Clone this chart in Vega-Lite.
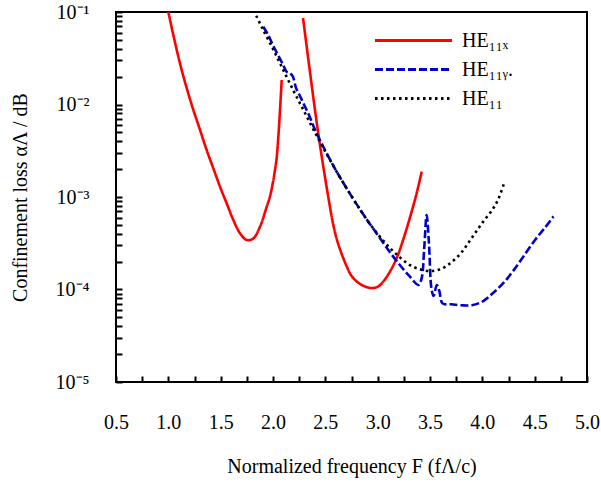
{
  "$schema": "https://vega.github.io/schema/vega-lite/v6.json",
  "width": 471,
  "height": 370,
  "autosize": {"type": "none"},
  "padding": {"left": 116, "top": 12, "right": 14, "bottom": 100},
  "background": "white",
  "config": {
    "view": {"stroke": "black", "strokeWidth": 2},
    "font": "Liberation Serif",
    "axis": {
      "domain": false,
      "grid": false,
      "ticks": true,
      "zindex": 1,
      "tickColor": "black",
      "tickWidth": 2,
      "labelFlush": false,
      "labelColor": "black",
      "labelFont": "Liberation Serif",
      "labelFontSize": 20,
      "titleFont": "Liberation Serif",
      "titleFontSize": 20,
      "titleFontWeight": "normal",
      "titleColor": "black"
    }
  },
  "data": {
    "values": [
      {"mode": "HE11x", "seg": "a", "F": 1.0, "loss": 0.1},
      {"mode": "HE11x", "seg": "a", "F": 1.05, "loss": 0.055},
      {"mode": "HE11x", "seg": "a", "F": 1.111, "loss": 0.0279},
      {"mode": "HE11x", "seg": "a", "F": 1.17, "loss": 0.0158},
      {"mode": "HE11x", "seg": "a", "F": 1.239, "loss": 0.00873},
      {"mode": "HE11x", "seg": "a", "F": 1.3, "loss": 0.00543},
      {"mode": "HE11x", "seg": "a", "F": 1.366, "loss": 0.00322},
      {"mode": "HE11x", "seg": "a", "F": 1.43, "loss": 0.00204},
      {"mode": "HE11x", "seg": "a", "F": 1.494, "loss": 0.00129},
      {"mode": "HE11x", "seg": "a", "F": 1.56, "loss": 0.00084},
      {"mode": "HE11x", "seg": "a", "F": 1.621, "loss": 0.000564},
      {"mode": "HE11x", "seg": "a", "F": 1.685, "loss": 0.000405},
      {"mode": "HE11x", "seg": "a", "F": 1.749, "loss": 0.000343},
      {"mode": "HE11x", "seg": "a", "F": 1.812, "loss": 0.000357},
      {"mode": "HE11x", "seg": "a", "F": 1.876, "loss": 0.000478},
      {"mode": "HE11x", "seg": "a", "F": 1.94, "loss": 0.000785},
      {"mode": "HE11x", "seg": "a", "F": 1.971, "loss": 0.00101},
      {"mode": "HE11x", "seg": "a", "F": 2.0, "loss": 0.00145},
      {"mode": "HE11x", "seg": "a", "F": 2.019, "loss": 0.00196},
      {"mode": "HE11x", "seg": "a", "F": 2.035, "loss": 0.00263},
      {"mode": "HE11x", "seg": "a", "F": 2.051, "loss": 0.00449},
      {"mode": "HE11x", "seg": "a", "F": 2.067, "loss": 0.00871},
      {"mode": "HE11x", "seg": "a", "F": 2.083, "loss": 0.0184},
      {"mode": "HE11x", "seg": "b", "F": 2.287, "loss": 0.0861},
      {"mode": "HE11x", "seg": "b", "F": 2.35, "loss": 0.024},
      {"mode": "HE11x", "seg": "b", "F": 2.4, "loss": 0.00891},
      {"mode": "HE11x", "seg": "b", "F": 2.449, "loss": 0.00363},
      {"mode": "HE11x", "seg": "b", "F": 2.525, "loss": 0.00105},
      {"mode": "HE11x", "seg": "b", "F": 2.576, "loss": 0.000501},
      {"mode": "HE11x", "seg": "b", "F": 2.621, "loss": 0.000316},
      {"mode": "HE11x", "seg": "b", "F": 2.704, "loss": 0.000178},
      {"mode": "HE11x", "seg": "b", "F": 2.755, "loss": 0.000138},
      {"mode": "HE11x", "seg": "b", "F": 2.831, "loss": 0.000115},
      {"mode": "HE11x", "seg": "b", "F": 2.927, "loss": 0.000104},
      {"mode": "HE11x", "seg": "b", "F": 3.0, "loss": 0.000107},
      {"mode": "HE11x", "seg": "b", "F": 3.054, "loss": 0.000122},
      {"mode": "HE11x", "seg": "b", "F": 3.12, "loss": 0.000158},
      {"mode": "HE11x", "seg": "b", "F": 3.182, "loss": 0.000219},
      {"mode": "HE11x", "seg": "b", "F": 3.25, "loss": 0.000363},
      {"mode": "HE11x", "seg": "b", "F": 3.309, "loss": 0.000603},
      {"mode": "HE11x", "seg": "b", "F": 3.37, "loss": 0.00107},
      {"mode": "HE11x", "seg": "b", "F": 3.421, "loss": 0.00188},
      {"mode": "HE11y.", "seg": "a", "F": 1.907, "loss": 0.0693},
      {"mode": "HE11y.", "seg": "a", "F": 1.95, "loss": 0.0575},
      {"mode": "HE11y.", "seg": "a", "F": 2.0, "loss": 0.0437},
      {"mode": "HE11y.", "seg": "a", "F": 2.05, "loss": 0.0339},
      {"mode": "HE11y.", "seg": "a", "F": 2.1, "loss": 0.0263},
      {"mode": "HE11y.", "seg": "a", "F": 2.13, "loss": 0.0226},
      {"mode": "HE11y.", "seg": "a", "F": 2.16, "loss": 0.0219},
      {"mode": "HE11y.", "seg": "a", "F": 2.19, "loss": 0.02},
      {"mode": "HE11y.", "seg": "a", "F": 2.22, "loss": 0.0151},
      {"mode": "HE11y.", "seg": "a", "F": 2.26, "loss": 0.0122},
      {"mode": "HE11y.", "seg": "a", "F": 2.3, "loss": 0.00977},
      {"mode": "HE11y.", "seg": "a", "F": 2.35, "loss": 0.00741},
      {"mode": "HE11y.", "seg": "a", "F": 2.4, "loss": 0.00537},
      {"mode": "HE11y.", "seg": "a", "F": 2.5, "loss": 0.00316},
      {"mode": "HE11y.", "seg": "a", "F": 2.6, "loss": 0.00195},
      {"mode": "HE11y.", "seg": "a", "F": 2.7, "loss": 0.00126},
      {"mode": "HE11y.", "seg": "a", "F": 2.8, "loss": 0.000832},
      {"mode": "HE11y.", "seg": "a", "F": 2.9, "loss": 0.000562},
      {"mode": "HE11y.", "seg": "a", "F": 3.0, "loss": 0.000389},
      {"mode": "HE11y.", "seg": "a", "F": 3.1, "loss": 0.000269},
      {"mode": "HE11y.", "seg": "a", "F": 3.2, "loss": 0.000191},
      {"mode": "HE11y.", "seg": "a", "F": 3.3, "loss": 0.000141},
      {"mode": "HE11y.", "seg": "a", "F": 3.39, "loss": 0.000112},
      {"mode": "HE11y.", "seg": "a", "F": 3.42, "loss": 0.000132},
      {"mode": "HE11y.", "seg": "a", "F": 3.445, "loss": 0.000282},
      {"mode": "HE11y.", "seg": "a", "F": 3.468, "loss": 0.000638},
      {"mode": "HE11y.", "seg": "a", "F": 3.49, "loss": 0.000316},
      {"mode": "HE11y.", "seg": "a", "F": 3.515, "loss": 0.0001},
      {"mode": "HE11y.", "seg": "a", "F": 3.535, "loss": 0.0000851},
      {"mode": "HE11y.", "seg": "a", "F": 3.565, "loss": 0.000112},
      {"mode": "HE11y.", "seg": "a", "F": 3.59, "loss": 0.0000955},
      {"mode": "HE11y.", "seg": "a", "F": 3.62, "loss": 0.0000708},
      {"mode": "HE11y.", "seg": "a", "F": 3.7, "loss": 0.0000692},
      {"mode": "HE11y.", "seg": "a", "F": 3.8, "loss": 0.0000676},
      {"mode": "HE11y.", "seg": "a", "F": 3.9, "loss": 0.0000676},
      {"mode": "HE11y.", "seg": "a", "F": 4.0, "loss": 0.0000741},
      {"mode": "HE11y.", "seg": "a", "F": 4.1, "loss": 0.0000912},
      {"mode": "HE11y.", "seg": "a", "F": 4.2, "loss": 0.000117},
      {"mode": "HE11y.", "seg": "a", "F": 4.3, "loss": 0.000162},
      {"mode": "HE11y.", "seg": "a", "F": 4.4, "loss": 0.000234},
      {"mode": "HE11y.", "seg": "a", "F": 4.5, "loss": 0.000339},
      {"mode": "HE11y.", "seg": "a", "F": 4.6, "loss": 0.000468},
      {"mode": "HE11y.", "seg": "a", "F": 4.68, "loss": 0.000617},
      {"mode": "HE11", "seg": "a", "F": 1.84, "loss": 0.0912},
      {"mode": "HE11", "seg": "a", "F": 1.9, "loss": 0.0661},
      {"mode": "HE11", "seg": "a", "F": 2.0, "loss": 0.0398},
      {"mode": "HE11", "seg": "a", "F": 2.1, "loss": 0.0234},
      {"mode": "HE11", "seg": "a", "F": 2.2, "loss": 0.0138},
      {"mode": "HE11", "seg": "a", "F": 2.3, "loss": 0.00832},
      {"mode": "HE11", "seg": "a", "F": 2.4, "loss": 0.00501},
      {"mode": "HE11", "seg": "a", "F": 2.5, "loss": 0.00309},
      {"mode": "HE11", "seg": "a", "F": 2.6, "loss": 0.00195},
      {"mode": "HE11", "seg": "a", "F": 2.7, "loss": 0.00126},
      {"mode": "HE11", "seg": "a", "F": 2.8, "loss": 0.000832},
      {"mode": "HE11", "seg": "a", "F": 2.9, "loss": 0.000562},
      {"mode": "HE11", "seg": "a", "F": 3.0, "loss": 0.000398},
      {"mode": "HE11", "seg": "a", "F": 3.1, "loss": 0.000295},
      {"mode": "HE11", "seg": "a", "F": 3.2, "loss": 0.000229},
      {"mode": "HE11", "seg": "a", "F": 3.3, "loss": 0.000186},
      {"mode": "HE11", "seg": "a", "F": 3.4, "loss": 0.000166},
      {"mode": "HE11", "seg": "a", "F": 3.5, "loss": 0.000158},
      {"mode": "HE11", "seg": "a", "F": 3.6, "loss": 0.000166},
      {"mode": "HE11", "seg": "a", "F": 3.7, "loss": 0.000195},
      {"mode": "HE11", "seg": "a", "F": 3.8, "loss": 0.000251},
      {"mode": "HE11", "seg": "a", "F": 3.9, "loss": 0.000363},
      {"mode": "HE11", "seg": "a", "F": 4.0, "loss": 0.000525},
      {"mode": "HE11", "seg": "a", "F": 4.1, "loss": 0.000741},
      {"mode": "HE11", "seg": "a", "F": 4.15, "loss": 0.000933},
      {"mode": "HE11", "seg": "a", "F": 4.21, "loss": 0.00143}
    ]
  },
  "mark": {"type": "line", "strokeWidth": 2.6, "interpolate": "catmull-rom", "clip": true},
  "encoding": {
    "x": {
      "field": "F",
      "type": "quantitative",
      "scale": {"domain": [0.5, 5], "nice": false, "zero": false},
      "axis": {
        "title": "Normalized frequency F (fΛ/c)",
        "values": [0.5, 0.75, 1, 1.25, 1.5, 1.75, 2, 2.25, 2.5, 2.75, 3, 3.25, 3.5, 3.75, 4, 4.25, 4.5, 4.75, 5],
        "labelExpr": "datum.value * 2 == round(datum.value * 2) ? format(datum.value, '.1f') : ''",
        "tickSize": -6,
        "labelPadding": 36,
        "titlePadding": 24
      }
    },
    "y": {
      "field": "loss",
      "type": "quantitative",
      "scale": {"type": "log", "domain": [0.00001, 0.1], "nice": false},
      "axis": {
        "title": "Confinement loss αΛ / dB",
        "values": [0.00001, 0.00002, 0.00003, 0.00004, 0.00005, 0.00006, 0.00007, 0.00008, 0.00009, 0.0001, 0.0002, 0.0003, 0.0004, 0.0005, 0.0006, 0.0007, 0.0008, 0.0009, 0.001, 0.002, 0.003, 0.004, 0.005, 0.006, 0.007, 0.008, 0.009, 0.01, 0.02, 0.03, 0.04, 0.05, 0.06, 0.07, 0.08, 0.09, 0.1],
        "labelExpr": "datum.value == 0.00001 ? '10⁻⁵' : datum.value == 0.0001 ? '10⁻⁴' : datum.value == 0.001 ? '10⁻³' : datum.value == 0.01 ? '10⁻²' : datum.value == 0.1 ? '10⁻¹' : ''",
        "tickSize": -6,
        "labelPadding": 33,
        "titlePadding": 25
      }
    },
    "color": {
      "field": "mode",
      "type": "nominal",
      "sort": null,
      "scale": {"domain": ["HE11x", "HE11y.", "HE11"], "range": ["#ff0000", "#0000cc", "#000000"]},
      "legend": {
        "title": null,
        "orient": "none",
        "legendX": 283,
        "legendY": 14,
        "symbolType": "M-3,0H3",
        "symbolSize": 659,
        "symbolStrokeWidth": 3,
        "labelFont": "Liberation Serif",
        "labelFontSize": 20,
        "labelColor": "black",
        "labelOffset": 34,
        "rowPadding": 4,
        "labelExpr": "datum.label == 'HE11x' ? 'HE₁₁ₓ' : datum.label == 'HE11y.' ? 'HE₁₁ᵧ.' : 'HE₁₁'"
      }
    },
    "strokeDash": {
      "field": "mode",
      "type": "nominal",
      "sort": null,
      "scale": {"domain": ["HE11x", "HE11y.", "HE11"], "range": [[1, 0], [8, 3], [2.5, 3.5]]},
      "legend": {
        "title": null,
        "orient": "none",
        "legendX": 283,
        "legendY": 14,
        "symbolType": "M-3,0H3",
        "symbolSize": 659,
        "symbolStrokeWidth": 3,
        "labelFont": "Liberation Serif",
        "labelFontSize": 20,
        "labelColor": "black",
        "labelOffset": 34,
        "rowPadding": 4,
        "labelExpr": "datum.label == 'HE11x' ? 'HE₁₁ₓ' : datum.label == 'HE11y.' ? 'HE₁₁ᵧ.' : 'HE₁₁'"
      }
    },
    "detail": {"field": "seg", "type": "nominal"}
  }
}
